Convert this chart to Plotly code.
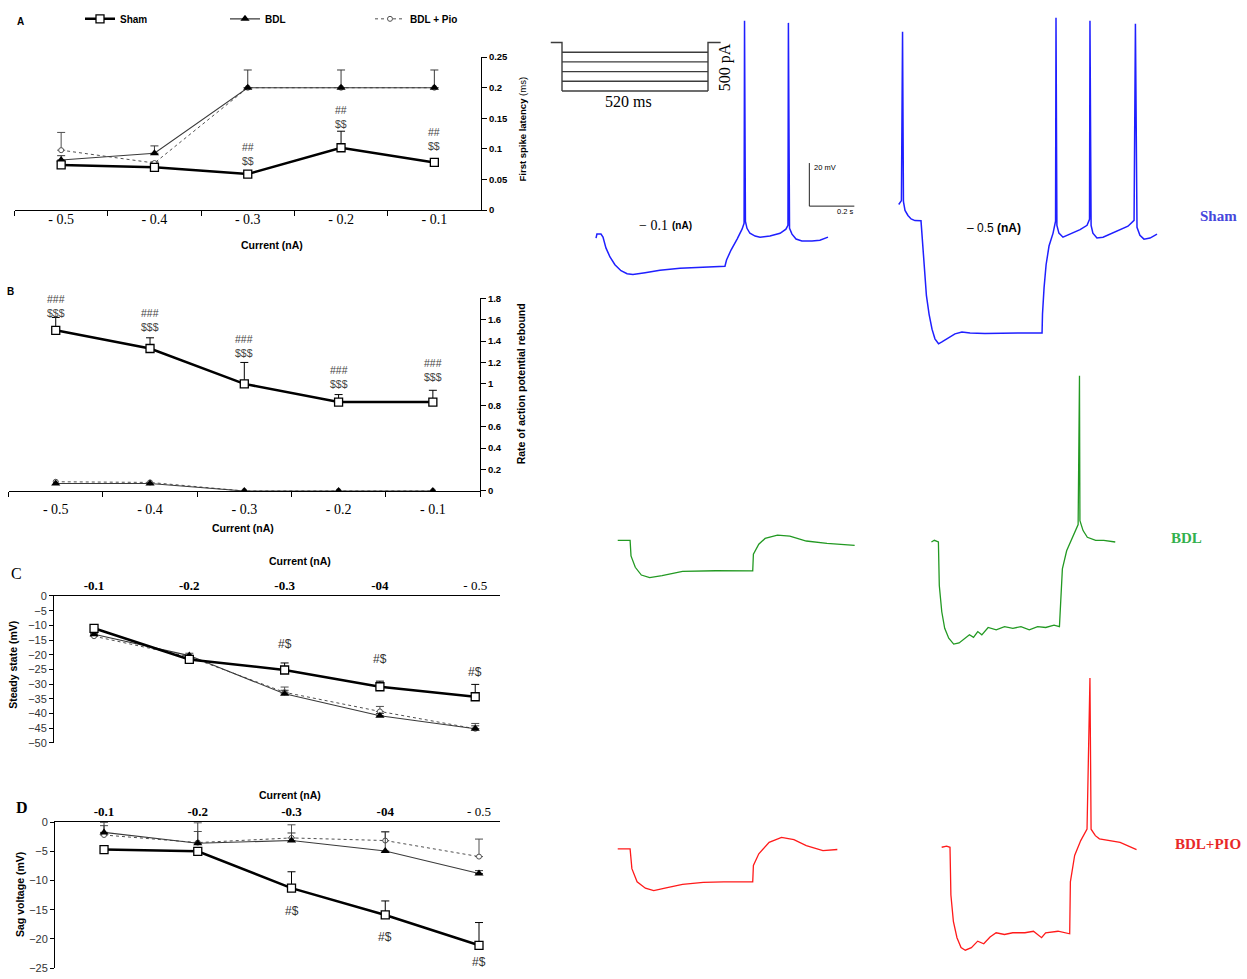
import plotly.graph_objects as go

W, H = 1247, 979

# ---------------- data: summary panels ----------------
CUR_AB = ["- 0.5", "- 0.4", "- 0.3", "- 0.2", "- 0.1"]
CUR_CD = ["-0.1", "-0.2", "-0.3", "-04", "- 0.5"]

# A: first spike latency (ms)
A_SHAM = [0.074, 0.070, 0.059, 0.102, 0.078]
A_SHAM_ERR = [0.004, 0.003, 0.002, 0.027, 0.003]
A_BDL = [0.082, 0.093, 0.200, 0.200, 0.200]
A_BDL_ERR = [0.007, 0.012, 0.029, 0.029, 0.029]
A_PIO = [0.098, 0.077, 0.200, 0.200, 0.200]
A_PIO_ERR = [0.029, 0.002, 0.0, 0.0, 0.0]
A_SIG = ["", "", "##<br>$$", "##<br>$$", "##<br>$$"]
A_SIG_Y = [0, 0, 0.0915, 0.153, 0.117]

# B: rate of action potential rebound
B_SHAM = [1.50, 1.33, 1.00, 0.83, 0.83]
B_SHAM_ERR = [0.12, 0.10, 0.20, 0.07, 0.11]
B_BDL = [0.07, 0.07, 0.0, 0.0, 0.0]
B_PIO = [0.086, 0.08, 0.0, 0.0, 0.0]
B_SIG = ["###<br>$$$"] * 5
B_SIG_Y = [1.73, 1.593, 1.355, 1.067, 1.127]

# C: steady state (mV)
C_SHAM = [-11.0, -21.6, -25.2, -30.9, -34.3]
C_SHAM_ERR = [0.5, 0.5, 2.4, 1.9, 4.2]
C_BDL = [-13.0, -20.3, -33.3, -40.8, -45.2]
C_BDL_ERR = [0.3, 0.8, 1.2, 0.8, 1.0]
C_PIO = [-13.7, -20.7, -32.8, -39.3, -45.2]
C_PIO_ERR = [0.3, 0.5, 1.8, 1.7, 1.8]
C_SIG = ["", "", "#$", "#$", "#$"]
C_SIG_Y = [0, 0, -16.4, -21.4, -25.8]

# D: sag voltage (mV)
D_SHAM = [-4.7, -5.0, -11.3, -15.9, -21.1]
D_SHAM_ERR = [0.5, 0.3, 2.8, 2.4, 3.9]
D_BDL = [-1.75, -3.6, -3.15, -4.95, -8.8]
D_BDL_ERR = [1.7, 3.5, 1.3, 3.3, 0.5]
D_PIO = [-2.2, -3.5, -2.7, -3.15, -5.9]
D_PIO_ERR = [1.6, 1.9, 2.25, 1.5, 3.0]
D_SIG = ["", "", "#$", "#$", "#$"]
D_SIG_Y = [0, 0, -15.2, -19.6, -24.0]

# ---------------- data: voltage recordings (ms, mV) ----------------
SHAM_01_T = [-31, -27, -9, 0, 13, 31, 53, 80, 107, 133, 187, 253, 342, 431, 542, 549, 569, 596, 618, 627,
             629, 633, 640, 653, 676, 698, 742, 787, 813, 822, 824, 829, 840, 858, 884, 929, 964, 1000]
SHAM_01_V = [-60.5, -58.6, -58.6, -60, -65, -69.2, -72.8, -75.6, -77, -77.4, -76.5, -75.4, -74.4, -74, -73.5,
             -70.6, -66, -60.9, -56.3, -53.6, 40.5, -52.7, -55.9, -58.2, -59.5, -60, -59.5, -58.2, -56.3, -54.5,
             39.5, -55.9, -58.6, -60.9, -61.8, -61.8, -61.4, -60]

SHAM_05_T = [-99, -87, -82, -78, -71, -58, -44, -27, 0, 7, 13, 24, 36, 49, 62, 78, 93, 116, 151, 182,
             218, 284, 351, 440, 538, 540, 547, 556, 569, 587, 598, 600, 604, 613, 631, 662, 707, 738, 749, 751,
             756, 764, 782, 809, 862, 920, 947, 953, 960, 973, 991, 1018, 1049]
SHAM_05_V = [-52.4, -50.6, 27.8, -51.1, -55.2, -57.5, -59.1, -59.9, -60, -70.3, -81.8, -94.6, -103.4, -110.3,
             -114.8, -117.1, -116.2, -114.6, -112.5, -111.6, -112.1, -112.3, -112.1, -112.1, -112.1, -103.3,
             -91, -80.4, -71.7, -65.7, -60.2, 34.3, -62.1, -65.7, -67.6, -66.2, -64.1, -62.1, -59.3, 32.9,
             -62.1, -65.7, -68, -67.6, -65.3, -62.5, -59.8, 31.5, -63, -66.7, -68.5, -68, -66.2]

BDL_01_T = [-55, 0, 4, 23, 50, 87, 142, 233, 380, 545, 548, 572, 600, 655, 710, 783, 875, 998]
BDL_01_V = [-60, -60, -67.2, -72.5, -76.1, -77.3, -76.4, -74.4, -74.1, -74.2, -66.4, -61.8, -59.1, -57.6,
            -58, -60.3, -61.4, -62.3]

BDL_05_T = [-31, -18, 0, 4, 15, 28, 46, 68, 92, 120, 138, 156, 175, 193, 221, 257, 294, 331, 367, 404,
            441, 477, 514, 538, 544, 551, 570, 597, 621, 627, 629, 643, 662, 699, 735, 786]
BDL_05_V = [-60.3, -59.5, -60.3, -80.5, -92.7, -100.4, -105, -107.7, -107.2, -105, -103.4, -104.6, -101.9,
            -103.4, -100, -101.1, -99.6, -100.4, -99.6, -101.1, -99.6, -100, -98.9, -99.6, -83.5, -72.8,
            -64.4, -57.6, -52.2, 16.9, -50.4, -55, -58.1, -59.5, -59.5, -60.3]

PIO_01_T = [-55, 0, 8, 31, 68, 105, 160, 233, 325, 416, 545, 548, 572, 618, 673, 728, 783, 857, 921]
PIO_01_V = [-60, -60, -69.2, -75.3, -78.3, -79.4, -78.1, -76.5, -75.6, -75.3, -75.3, -67.7, -62.3, -57,
            -54.7, -55.7, -58.5, -60.8, -60.3]

PIO_05_T = [-37, -15, 0, 4, 15, 31, 49, 68, 95, 123, 150, 178, 205, 242, 279, 333, 371, 407, 425, 480,
            532, 535, 554, 581, 609, 622, 627, 646, 664, 700, 756, 829]
PIO_05_V = [-60, -59.5, -60, -82.2, -94.4, -102, -106.6, -107.8, -106.6, -103.6, -104.8, -101.7, -99.7,
            -100.5, -99.7, -99.7, -99, -102, -99.7, -99, -100.2, -76.1, -63.8, -56.9, -51.6, 18.6, -51.6,
            -54.6, -56.1, -56.6, -57.7, -61.1]

# stimulus protocol
STIM_PA = [-100, -200, -300, -400, -500]
STIM_MS = 520
STIM_PRE_MS = 40
STIM_POST_MS = 45

SCALE_MV = 20
SCALE_MS = 200

# ---------------- helpers ----------------
SERIF = "Liberation Serif"
SANS = "Liberation Sans"


def px(x):
    return x / W


def py(y):
    return 1 - y / H


fig = go.Figure()
layout = {}
annotations = []


def ann(x, y, text, size, family=SANS, color="black", bold=False, angle=0, xanchor="center"):
    annotations.append(dict(x=px(x), y=py(y), xref="paper", yref="paper", text=text, showarrow=False,
                            font=dict(family=family, size=size, color=color,
                                      weight="bold" if bold else "normal"),
                            textangle=angle, xanchor=xanchor, yanchor="middle"))


STYLE = {
    "Sham": dict(line=dict(color="black", width=2.5),
                 marker=dict(symbol="square", size=8, color="white", line=dict(color="black", width=1.3))),
    "BDL": dict(line=dict(color="#3a3a3a", width=1.1),
                marker=dict(symbol="triangle-up", size=8, color="black", line=dict(color="black", width=0))),
    "BDL + Pio": dict(line=dict(color="#505050", width=1, dash="dot"),
                      marker=dict(symbol="circle", size=5, color="white", line=dict(color="#505050", width=1))),
}
RANK = {"Sham": 1, "BDL": 2, "BDL + Pio": 3}


def series(xs, ys, err, name, n, showlegend=False):
    st = STYLE[name]
    kw = {}
    if err is not None:
        kw["error_y"] = dict(type="data", symmetric=False, array=err, arrayminus=[0] * len(err),
                             color=st["line"]["color"], thickness=1, width=4)
    fig.add_trace(go.Scatter(x=xs, y=ys, mode="lines+markers", name=name, line=st["line"],
                             marker=st["marker"], showlegend=showlegend, legendrank=RANK[name],
                             xaxis="x" if n == 1 else f"x{n}", yaxis="y" if n == 1 else f"y{n}",
                             hoverinfo="skip", **kw))


def sig(labels, ys, n, size, color):
    # x given as category index (category names such as "-0.3" would be read as numbers)
    for i, (t, yv) in enumerate(zip(labels, ys)):
        if t:
            annotations.append(dict(x=i, y=yv, xref="x" if n == 1 else f"x{n}",
                                    yref="y" if n == 1 else f"y{n}", text=t, showarrow=False,
                                    font=dict(family=SANS, size=size, color=color), yanchor="middle"))


# ---------------- panel A ----------------
series(CUR_AB, A_PIO, A_PIO_ERR, "BDL + Pio", 1, True)
series(CUR_AB, A_BDL, A_BDL_ERR, "BDL", 1, True)
series(CUR_AB, A_SHAM, A_SHAM_ERR, "Sham", 1, True)
sig(A_SIG, A_SIG_Y, 1, 10.5, "#444")

# ---------------- panel B ----------------
series(CUR_AB, B_PIO, None, "BDL + Pio", 2)
series(CUR_AB, B_BDL, None, "BDL", 2)
series(CUR_AB, B_SHAM, B_SHAM_ERR, "Sham", 2)
sig(B_SIG, B_SIG_Y, 2, 10.5, "#444")

# ---------------- panel C ----------------
series(CUR_CD, C_PIO, C_PIO_ERR, "BDL + Pio", 3)
series(CUR_CD, C_BDL, C_BDL_ERR, "BDL", 3)
series(CUR_CD, C_SHAM, C_SHAM_ERR, "Sham", 3)
sig(C_SIG, C_SIG_Y, 3, 12, "#333")

# ---------------- panel D ----------------
series(CUR_CD, D_PIO, D_PIO_ERR, "BDL + Pio", 4)
series(CUR_CD, D_BDL, D_BDL_ERR, "BDL", 4)
series(CUR_CD, D_SHAM, D_SHAM_ERR, "Sham", 4)
sig(D_SIG, D_SIG_Y, 4, 12, "#333")

AXL = dict(showline=True, linecolor="black", linewidth=1, showgrid=False, zeroline=False, mirror=False)

for n, (x0, x1, ytop, ybot, ymax, dt, stand) in {1: (14.5, 481, 51.7, 206.7, 0.25, 0.05, -4),
                                                 2: (8.6, 480, 295.7, 491, 1.8, 0.2, 5)}.items():
    xs = "xaxis" if n == 1 else f"xaxis{n}"
    ys = "yaxis" if n == 1 else f"yaxis{n}"
    yid = "y" if n == 1 else f"y{n}"
    xid = "x" if n == 1 else f"x{n}"
    layout[xs] = dict(AXL, domain=[px(x0), px(x1)], anchor=yid, type="category", categoryorder="array",
                      categoryarray=CUR_AB, range=[-0.5, 4.5], ticks="outside", tickson="boundaries",
                      ticklen=5, tickcolor="black", ticklabelstandoff=stand,
                      tickfont=dict(family=SERIF, size=14, color="black"))
    layout[ys] = dict(AXL, domain=[py(ybot), py(ytop)], anchor=xid, side="right", range=[0, ymax * 1.0005],
                      dtick=dt, ticks="outside", ticklen=5, tickcolor="black",
                      tickfont=dict(family=SANS, size=9.5, color="black", weight="bold"))

CD_BOLD = [True, True, True, True, False]
for n, (x0, x1, ytop, ybot, ymin, lo, hi) in {3: (54, 500, 597.3, 746, -50, -0.42, 4.26),
                                              4: (55, 500, 826.3, 974, -25, -0.523, 4.224)}.items():
    layout[f"xaxis{n}"] = dict(AXL, domain=[px(x0), px(x1)], anchor=f"y{n}", side="top", type="category",
                               categoryorder="array", categoryarray=CUR_CD, range=[lo, hi], ticks="",
                               tickvals=CUR_CD,
                               ticktext=[f"<b>{c}</b>" if b else c for c, b in zip(CUR_CD, CD_BOLD)],
                               tickfont=dict(family=SERIF, size=13, color="black"))
    layout[f"yaxis{n}"] = dict(AXL, domain=[py(ybot), py(ytop)], anchor=f"x{n}", range=[ymin, 0], dtick=5,
                               ticks="outside", ticklen=4, tickcolor="black",
                               tickfont=dict(family=SANS, size=11, color="#333"))

# ---------------- voltage traces ----------------
K_T = 0.225   # px per ms
K_V = 2.18    # px per mV
V_REST = -60


def trace_axes(n, anchor, box):
    ax, ay = anchor
    x0, x1, y0, y1 = box
    layout[f"xaxis{n}"] = dict(domain=[px(x0), px(x1)], range=[(x0 - ax) / K_T, (x1 - ax) / K_T],
                               visible=False, anchor=f"y{n}", fixedrange=True)
    layout[f"yaxis{n}"] = dict(domain=[py(y1), py(y0)],
                               range=[V_REST - (y1 - ay) / K_V, V_REST + (ay - y0) / K_V],
                               visible=False, anchor=f"x{n}", fixedrange=True)


def vtrace(n, t, v, color, width):
    fig.add_trace(go.Scatter(x=t, y=v, mode="lines", line=dict(color=color, width=width),
                             xaxis=f"x{n}", yaxis=f"y{n}", showlegend=False, hoverinfo="skip"))


BLUE, GREEN, RED = "#1f1fff", "#229922", "#ff1a1a"

trace_axes(6, (603, 234), (585, 865, 5, 285))
vtrace(6, SHAM_01_T, SHAM_01_V, BLUE, 1.5)
# scale bar
SB_T, SB_V = 917, -45.6
fig.add_trace(go.Scatter(x=[SB_T, SB_T, SB_T + SCALE_MS], y=[SB_V + SCALE_MV, SB_V, SB_V], mode="lines",
                         line=dict(color="#222", width=1), xaxis="x6", yaxis="y6", showlegend=False,
                         hoverinfo="skip"))

trace_axes(7, (921, 217.5), (885, 1170, 5, 355))
vtrace(7, SHAM_05_T, SHAM_05_V, BLUE, 1.5)

trace_axes(8, (630.1, 541), (605, 865, 500, 600))
vtrace(8, BDL_01_T, BDL_01_V, GREEN, 1.3)

trace_axes(9, (938.4, 542), (920, 1125, 360, 660))
vtrace(9, BDL_05_T, BDL_05_V, GREEN, 1.3)

trace_axes(10, (630.1, 853.3), (605, 850, 820, 910))
vtrace(10, PIO_01_T, PIO_01_V, RED, 1.3)

trace_axes(11, (950, 851.7), (930, 1145, 670, 970))
vtrace(11, PIO_05_T, PIO_05_V, RED, 1.3)

# stimulus protocol
K_TS = 146 / 520
K_I = 49 / 500
sx0, sx1, sy0, sy1 = 545, 730, 30, 95
sax, say = 562, 37
layout["xaxis5"] = dict(domain=[px(sx0), px(sx1)], range=[(sx0 - sax) / K_TS, (sx1 - sax) / K_TS],
                        visible=False, anchor="y5", fixedrange=True)
layout["yaxis5"] = dict(domain=[py(sy1), py(sy0)], range=[-(sy1 - say) / K_I, (say - sy0) / K_I],
                        visible=False, anchor="x5", fixedrange=True)
SC = "#3c3c3c"
for lvl in STIM_PA:
    fig.add_trace(go.Scatter(x=[0, STIM_MS], y=[lvl, lvl], mode="lines", line=dict(color=SC, width=1.4),
                             xaxis="x5", yaxis="y5", showlegend=False, hoverinfo="skip"))
fig.add_trace(go.Scatter(x=[-STIM_PRE_MS, 0, 0], y=[0, 0, min(STIM_PA)], mode="lines",
                         line=dict(color=SC, width=1.4), xaxis="x5", yaxis="y5", showlegend=False,
                         hoverinfo="skip"))
fig.add_trace(go.Scatter(x=[STIM_MS, STIM_MS, STIM_MS + STIM_POST_MS], y=[min(STIM_PA), 0, 0], mode="lines",
                         line=dict(color=SC, width=1.4), xaxis="x5", yaxis="y5", showlegend=False,
                         hoverinfo="skip"))

# ---------------- text ----------------
ann(20, 16, "A", 10, bold=True)
ann(10, 289, "B", 10, bold=True)
ann(16, 575, "C", 16, family=SERIF)
ann(22, 811, "D", 16, family=SERIF, bold=True)

ann(272, 241.5, "Current (nA)", 10.5, bold=True)
ann(243, 528, "Current (nA)", 10.5, bold=True)
ann(300, 562, "Current (nA)", 10.5, bold=True)
ann(290, 799, "Current (nA)", 10.5, bold=True)

ann(522, 125, "<b>First spike latency</b> (ms)", 9.5, angle=-90)
ann(521, 383, "Rate of action potential rebound", 10.5, bold=True, angle=-90)
ann(13, 667, "Steady state (mV)", 10.5, bold=True, angle=-90)
ann(20, 900, "Sag voltage (mV)", 10.5, bold=True, angle=-90)

ann(628, 97, "520 ms", 16, family=SERIF)
ann(725, 62, "500 pA", 16, family=SERIF, angle=-90)
ann(812, 164, "20 mV", 7.5, xanchor="left")
ann(845, 208.5, "0.2 s", 7.5)
ann(653, 222, "\u2212 0.1", 14, family=SERIF)
ann(682, 222, "(nA)", 10, bold=True)
ann(994, 224.5, "\u2013 0.5 <b>(nA)</b>", 12)

ann(1218, 213, "Sham", 15, family=SERIF, color="#4646dc", bold=True)
ann(1186, 539, "BDL", 15, family=SERIF, color="#33b04d", bold=True)
ann(1208, 848, "BDL+PIO", 15, family=SERIF, color="#e82828", bold=True)

fig.update_layout(
    width=W, height=H, margin=dict(l=0, r=0, t=0, b=0), paper_bgcolor="white",
    plot_bgcolor="rgba(0,0,0,0)",
    annotations=annotations,
    legend=dict(orientation="h", x=px(80), y=py(13), xanchor="left", yanchor="middle",
                entrywidth=100, entrywidthmode="pixels", itemwidth=30, traceorder="normal",
                font=dict(family=SANS, size=10, color="black", weight="bold"), bgcolor="rgba(0,0,0,0)"),
    **layout,
)

fig.write_html("out.html")
